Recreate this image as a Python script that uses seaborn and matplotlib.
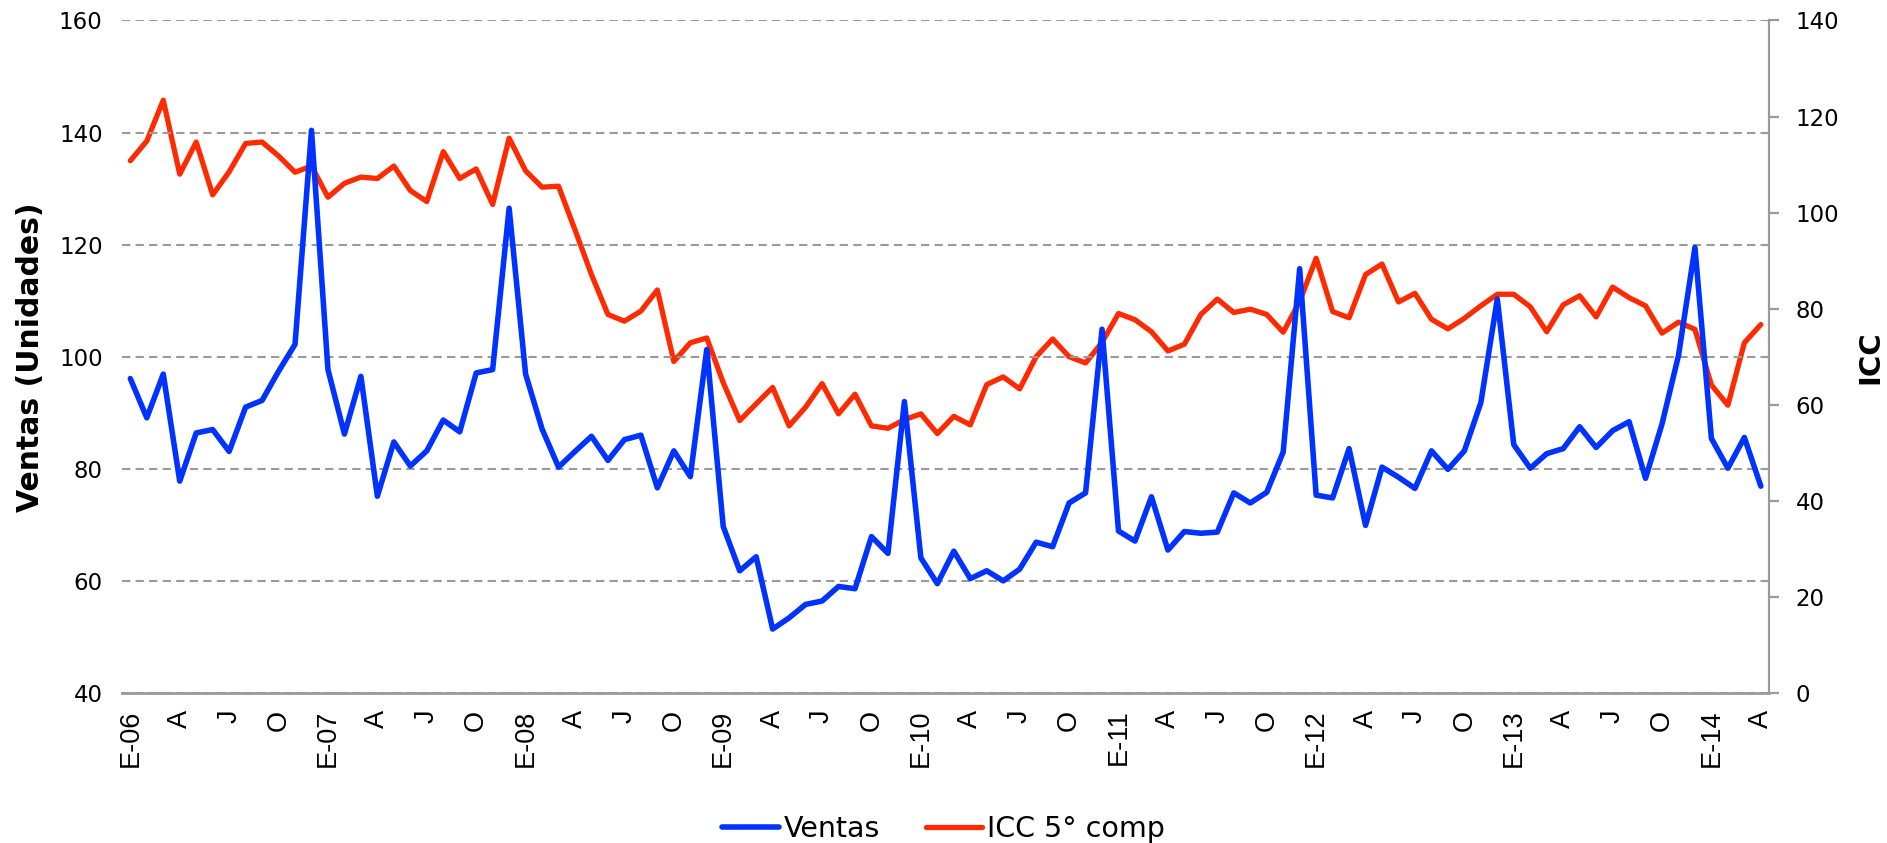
import numpy as np
import pandas as pd
import matplotlib
matplotlib.use("Agg")
import matplotlib.pyplot as plt
import seaborn as sns

# ---------------- data ----------------
ventas = [96.1, 89.1, 96.9, 77.8, 86.4, 87.0, 83.1, 91.0, 92.2, 97.4, 102.2, 140.4,
          97.7, 86.2, 96.5, 75.1, 84.8, 80.5, 83.2, 88.7, 86.6, 97.1, 97.7, 126.5,
          96.9, 87.1, 80.3, 83.1, 85.8, 81.5, 85.2, 86.0, 76.6, 83.2, 78.6, 101.3,
          69.7, 61.8, 64.3, 51.4, 53.4, 55.8, 56.4, 59.0, 58.6, 67.9, 64.9, 92.0,
          64.1, 59.5, 65.3, 60.4, 61.8, 60.0, 62.1, 66.9, 66.1, 73.9, 75.7, 104.9,
          68.9, 67.1, 75.0, 65.5, 68.8, 68.5, 68.7, 75.7, 73.9, 75.8, 83.0, 115.7,
          75.3, 74.8, 83.6, 69.9, 80.3, 78.5, 76.5, 83.2, 79.9, 83.2, 91.8, 110.3,
          84.3, 80.1, 82.7, 83.6, 87.5, 83.8, 86.8, 88.4, 78.3, 88.0, 100.2, 119.5,
          85.4, 80.1, 85.6, 76.9]

icc = [110.8, 114.9, 123.4, 108.0, 114.7, 103.7, 108.5, 114.4, 114.7, 111.8, 108.4, 109.7,
       103.2, 106.1, 107.4, 107.1, 109.7, 104.6, 102.3, 112.7, 107.1, 109.1, 101.7, 115.5,
       108.7, 105.3, 105.5, 96.4, 87.1, 78.8, 77.4, 79.5, 83.9, 69.0, 72.9, 73.9,
       64.6, 56.7, 60.2, 63.6, 55.6, 59.5, 64.4, 58.1, 62.2, 55.6, 55.1, 56.9,
       58.1, 54.0, 57.6, 55.8, 64.2, 65.8, 63.3, 70.0, 73.7, 70.0, 68.7, 73.0,
       79.0, 77.7, 75.2, 71.2, 72.6, 78.8, 82.0, 79.2, 79.9, 78.8, 75.1, 81.5,
       90.5, 79.4, 78.1, 87.1, 89.3, 81.4, 83.2, 77.8, 75.8, 78.0, 80.6, 83.0,
       83.0, 80.4, 75.2, 80.8, 82.7, 78.3, 84.5, 82.3, 80.6, 74.9, 77.2, 75.7,
       64.1, 59.9, 72.9, 76.7]

tick_labels = ["E-06", "A", "J", "O", "E-07", "A", "J", "O", "E-08", "A", "J", "O",
               "E-09", "A", "J", "O", "E-10", "A", "J", "O", "E-11", "A", "J", "O",
               "E-12", "A", "J", "O", "E-13", "A", "J", "O", "E-14", "A"]

series_names = ["Ventas", "ICC 5° comp"]
left_ticks = [40, 60, 80, 100, 120, 140, 160]
right_ticks = [0, 20, 40, 60, 80, 100, 120, 140]

months = np.arange(len(ventas))
df = pd.DataFrame({"mes": months, "ventas": ventas, "icc": icc})

# ---------------- style ----------------
sns.set_theme(style="white")
plt.rcParams["font.family"] = ["DejaVu Sans"]
plt.rcParams["text.color"] = "black"

BLUE = "#0033FF"
RED = "#FF2A00"
GRID = "#9A9A9A"

fig = plt.figure(figsize=(18.87, 8.43), dpi=100)
ax = fig.add_axes([0.0647, 0.178, 0.8728, 0.7977])
ax2 = ax.twinx()

sns.lineplot(data=df, x="mes", y="ventas", ax=ax, color=BLUE, linewidth=4.0,
             label=series_names[0], legend=False)
sns.lineplot(data=df, x="mes", y="icc", ax=ax2, color=RED, linewidth=3.8,
             label=series_names[1], legend=False)

# blue above red
ax.set_zorder(ax2.get_zorder() + 1)
ax.patch.set_visible(False)

ax.set_xlim(-0.5, len(ventas) - 0.5)
ax.set_ylim(40, 160)
ax2.set_ylim(0, 140)

ax.set_yticks(left_ticks)
ax.set_yticklabels([str(t) for t in left_ticks], fontsize=16.5)
ax2.set_yticks(right_ticks)
ax2.set_yticklabels([str(t) for t in right_ticks], fontsize=16.5)

ax.set_xticks(months[::3])
ax.set_xticklabels(tick_labels, rotation=90, fontsize=19.5,
                   family=["Liberation Sans", "DejaVu Sans"])

ax.grid(axis="y", color=GRID, linestyle=(0, (4, 2.5)), linewidth=1.5)
ax.grid(axis="x", visible=False)
ax.set_axisbelow(True)

for a in (ax, ax2):
    a.spines["top"].set_visible(False)
    a.spines["left"].set_visible(False)
ax.spines["right"].set_visible(False)
ax2.spines["bottom"].set_visible(False)
ax2.spines["right"].set_color(GRID)
ax2.spines["right"].set_linewidth(1.6)
ax.spines["bottom"].set_color(GRID)
ax.spines["bottom"].set_linewidth(2.0)
ax.spines["bottom"].set_zorder(0)

ax.tick_params(axis="y", left=False, length=0, pad=14, colors="black")
ax.tick_params(axis="x", bottom=False, length=0, pad=12, colors="black")
ax2.tick_params(axis="y", right=True, direction="out", length=7, width=1.6,
                color=GRID, pad=12, labelcolor="black")

ax.set_xlabel("")
ax.set_ylabel("Ventas (Unidades)", fontsize=21.5, fontweight="bold", color="black")
ax.yaxis.set_label_coords(-0.047, 0.5)
ax2.set_ylabel("ICC", fontsize=21, fontweight="bold", color="black")
ax2.yaxis.set_label_coords(1.053, 0.5)

h1, l1 = ax.get_legend_handles_labels()
h2, l2 = ax2.get_legend_handles_labels()
fig.legend(h1 + h2, l1 + l2, loc="lower center", bbox_to_anchor=(0.5, -0.03),
           ncol=2, frameon=False, fontsize=20.5, handlelength=2.0,
           handletextpad=0.15, columnspacing=1.6)

fig.savefig("out.png", dpi=100)
